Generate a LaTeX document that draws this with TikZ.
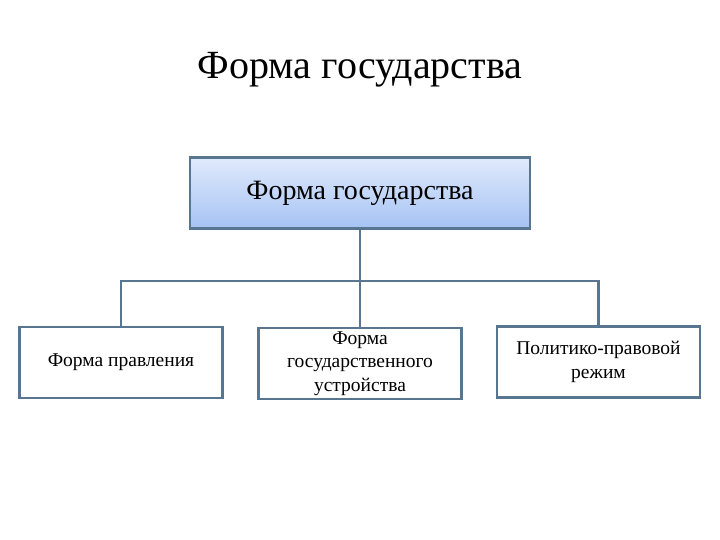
\documentclass[tikz,border=0pt]{standalone}
\usepackage{fontspec}
\setmainfont{Liberation Serif}
\usepackage{tikz}

\definecolor{frameblue}{RGB}{88,118,144}
\definecolor{shadetop}{RGB}{224,234,252}
\definecolor{shadebot}{RGB}{166,195,244}

\tikzset{
  leaf/.style={draw=frameblue,line width=2.2pt,fill=white,minimum width=203pt,
    minimum height=71pt,align=center,font=\fontsize{19.5}{23.5}\selectfont},
  rootbox/.style={draw=frameblue,line width=2.2pt,top color=shadetop,bottom color=shadebot,
    minimum width=340pt,minimum height=71pt,font=\fontsize{28}{32}\selectfont},
  link/.style={draw=frameblue,line width=2.2pt}
}

\begin{document}
\begin{tikzpicture}[x=1pt,y=-1pt]
    \useasboundingbox (0,0) rectangle (720,540);
    \node (title) at (360,70) {\fontsize{40}{44}\selectfont Форма государства};
    \node[rootbox] (form) at (360,193) {Форма государства};
    \node[leaf] (rule) at (121,362.5) {Форма правления};
    \node[leaf,inner sep=1pt] (struct) at (360,363.5) {Форма\\государственного\\устройства};
    \node[leaf] (regime) at (598.5,362) {Политико-правовой\\режим};
    \coordinate (bus) at (360,281);
    \draw[link] (form.south) -- (bus);
    \draw[link] (rule.north) |- (bus) -| (regime.north);
    \draw[link] (bus) -- (struct.north);
  \end{tikzpicture}
\end{document}
